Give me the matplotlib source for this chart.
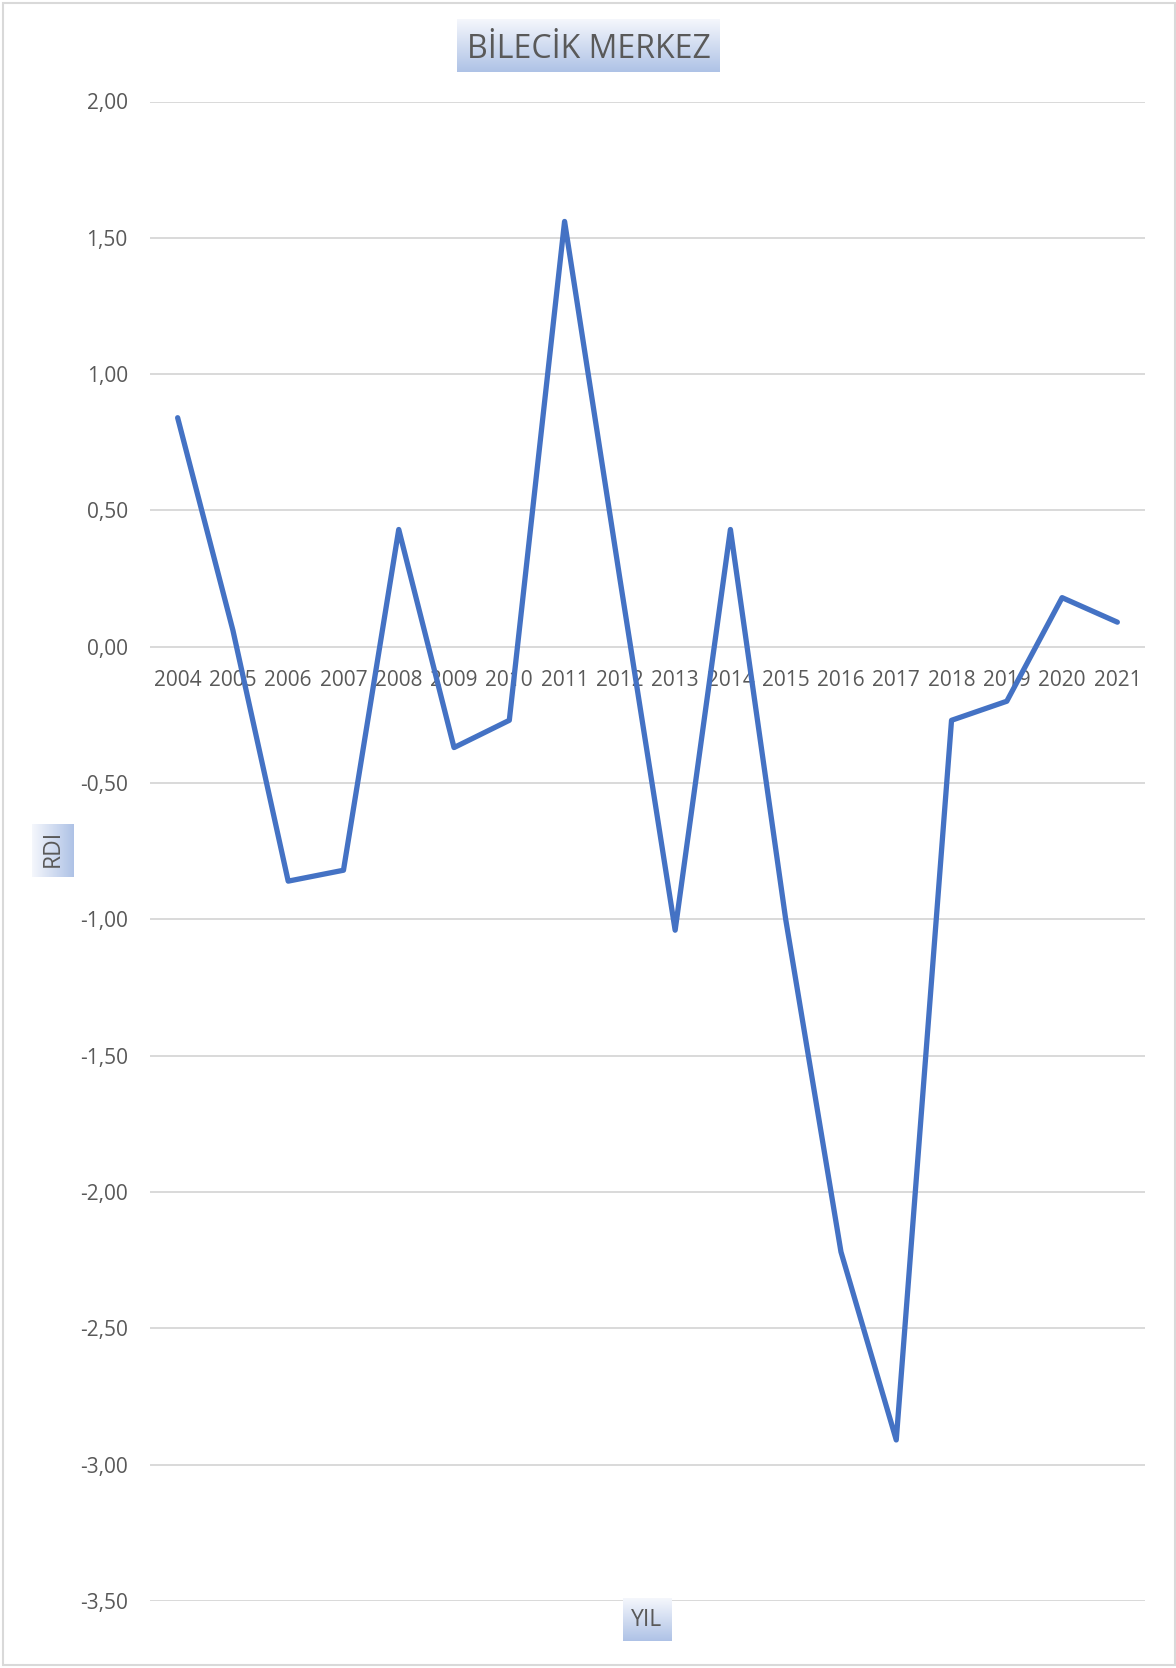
import matplotlib
matplotlib.use("Agg")
import matplotlib.pyplot as plt
import numpy as np
from matplotlib.colors import LinearSegmentedColormap
from matplotlib.patches import Rectangle

years = ["2004", "2005", "2006", "2007", "2008", "2009", "2010", "2011", "2012",
         "2013", "2014", "2015", "2016", "2017", "2018", "2019", "2020", "2021"]
rdi = [0.84, 0.06, -0.86, -0.82, 0.43, -0.37, -0.27, 1.56, 0.25,
       -1.04, 0.43, -1.00, -2.22, -2.91, -0.27, -0.20, 0.18, 0.09]
yticks = [2.0, 1.5, 1.0, 0.5, 0.0, -0.5, -1.0, -1.5, -2.0, -2.5, -3.0, -3.5]
ytick_labels = ["2,00", "1,50", "1,00", "0,50", "0,00", "-0,50", "-1,00",
                "-1,50", "-2,00", "-2,50", "-3,00", "-3,50"]

plt.rcParams['font.family'] = ['Open Sans', 'DejaVu Sans']
W, H = 1176, 1668
fig = plt.figure(figsize=(W / 100, H / 100), dpi=100)

def fx(px):
    return px / W

def fy(py):
    return 1 - py / H

txt_col = "#595959"
grid_col = "#D9D9D9"

ax = fig.add_axes([fx(150), fy(1600.8), fx(1145) - fx(150), fy(101.5) - fy(1600.8)])
x = np.arange(len(years))
ax.plot(x, rdi, color="#4472C4", lw=3.8, solid_joinstyle="round", solid_capstyle="round", zorder=3)
ax.set_xlim(-0.5, len(years) - 0.5)
ax.set_ylim(-3.5, 2.0)
ax.set_yticks(yticks)
ax.set_yticklabels(ytick_labels)
ax.set_xticks(x)
ax.set_xticklabels(years)
ax.yaxis.grid(True, color=grid_col, lw=1.4)
ax.set_axisbelow(True)
for s in ["left", "right", "top"]:
    ax.spines[s].set_visible(False)
ax.spines["bottom"].set_position(("data", 0))
ax.spines["bottom"].set_color("none")
ax.tick_params(axis="y", length=0, pad=16, labelsize=15, labelcolor=txt_col)
ax.tick_params(axis="x", length=0, pad=17, labelsize=15, labelcolor=txt_col)

blue_cmap = LinearSegmentedColormap.from_list("g", ["#F5F7FC", "#AEC2E6"])

def grad_box(x0, y0, x1, y1, horizontal=False):
    gax = fig.add_axes([fx(x0), fy(y1), fx(x1) - fx(x0), fy(y0) - fy(y1)])
    g = np.linspace(0, 1, 256)
    if horizontal:
        arr = g[None, :]
    else:
        arr = g[:, None]
    gax.imshow(arr, aspect="auto", cmap=blue_cmap, extent=[0, 1, 0, 1] if horizontal else [0, 1, 1, 0])
    gax.axis("off")
    return gax

# title box
grad_box(457, 19, 720, 72)
fig.text(fx(588.5), fy(49), "BİLECİK MERKEZ", ha="center", va="center", fontsize=23, color=txt_col)

# y label box
grad_box(32, 824, 74, 877, horizontal=True)
fig.text(fx(53), fy(848), "RDI", ha="center", va="center", rotation=90, fontsize=16.5, color=txt_col)

# x label box
grad_box(623, 1598, 671, 1641)
fig.text(fx(647), fy(1620), "YIL", ha="center", va="center", fontsize=16.5, color=txt_col)

# figure border
fig.patches.append(Rectangle((fx(3), fy(1665)), fx(1172), fy(3) - fy(1665), transform=fig.transFigure,
                             fill=False, edgecolor=grid_col, lw=1.5))

fig.savefig("out.png", dpi=100)
